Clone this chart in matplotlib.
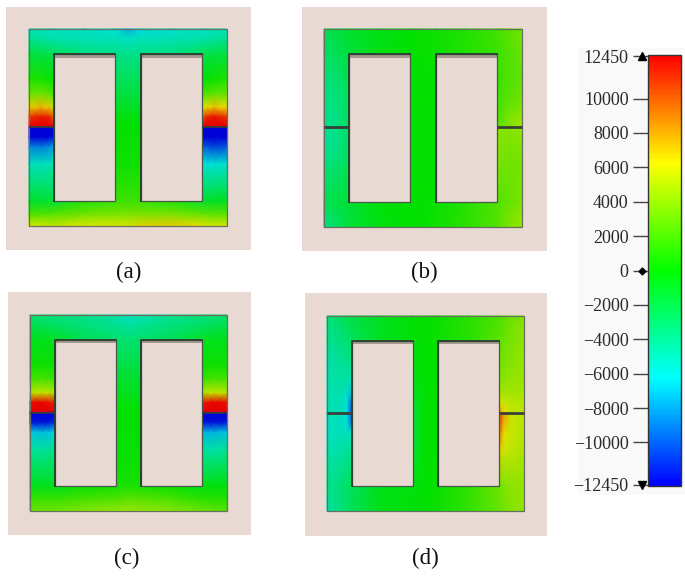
import numpy as np
import matplotlib
matplotlib.use("Agg")
import matplotlib.pyplot as plt
import matplotlib.ticker
from matplotlib.colors import LinearSegmentedColormap, Normalize
from matplotlib.cm import ScalarMappable
from matplotlib.patches import Rectangle

plt.rcParams["font.family"] = ["Liberation Serif", "DejaVu Serif"]

# field sample positions on the core (x across, y down)
grid_x = [0, 12, 20, 25, 55, 86, 99, 112, 142, 173, 178, 185, 198]
grid_y = [0, 10, 25, 50, 65, 78, 88, 97, 99, 108, 118, 135, 172, 185, 197]

field_a = [
    [-5200, -5400, -5500, -5500, -5600, -6000, -7500, -6400, -5800, -5500, -5500, -5400, -5200],
    [-4300, -4500, -4700, -4800, -5000, -5200, -5400, -5200, -5000, -4800, -4700, -4500, -4300],
    [-1800, -1800, -2100, -2500, -3600, -3800, -4000, -3800, -3600, -2500, -2100, -1800, -1800],
    [800, 500, 200, 0, -2200, -2500, -2600, -2500, -2200, -300, 0, 300, 800],
    [2800, 3000, 2600, 2000, -1500, -1700, -1800, -1700, -1500, 1800, 2200, 2600, 2800],
    [6800, 7500, 7000, 5000, -900, -1000, -1100, -1000, -900, 5500, 6500, 7200, 6300],
    [11000, 11800, 11500, 9500, -300, -300, -400, -300, -300, 10000, 11500, 12000, 11000],
    [12450, 12450, 12450, 12450, 0, 0, 0, 0, 0, 12450, 12450, 12450, 12450],
    [-12450, -12450, -12450, -12450, 0, 0, 0, 0, 0, -12450, -12450, -12450, -12450],
    [-12450, -12450, -12450, -11800, 100, 100, 100, 100, 100, -12450, -12450, -12450, -12450],
    [-8800, -9000, -8600, -7800, 200, 200, 200, 200, 200, -9800, -10000, -10500, -10000],
    [-5300, -5400, -5200, -5000, 300, 300, 300, 300, 300, -6200, -6200, -6000, -5800],
    [-1200, -1400, -1500, -1500, 900, 1500, 1700, 1500, 900, -1300, -1200, -1000, -900],
    [2000, 2100, 2200, 2400, 3000, 3300, 3300, 3300, 3300, 2700, 2600, 2500, 2300],
    [6000, 5600, 5300, 5200, 6000, 5700, 5700, 6800, 7000, 6400, 5700, 5700, 5700],
]

field_b = [
    [-2200, -1800, -1400, -1200, -500, 0, 200, 300, 800, 1800, 2100, 2400, 3000],
    [-2500, -2100, -1600, -1400, -500, 0, 200, 300, 900, 1700, 2000, 2400, 3200],
    [-2800, -2500, -2000, -1700, -500, 0, 100, 300, 900, 1500, 1800, 2200, 2800],
    [-3500, -3200, -2600, -2000, -400, 0, 0, 100, 800, 1400, 1700, 2200, 2600],
    [-3700, -3500, -2900, -2200, -300, 0, 0, 100, 800, 1500, 1900, 2400, 3000],
    [-3800, -3600, -3000, -2300, -200, 0, 0, 100, 800, 1700, 2200, 2800, 3400],
    [-4000, -3800, -3200, -2500, -200, 0, 0, 100, 800, 2000, 2500, 3300, 4000],
    [-4000, -3700, -3100, -2500, -200, 0, 0, 0, 800, 2300, 2800, 3600, 4200],
    [-4100, -3800, -3200, -2500, -200, 0, 0, 0, 800, 3500, 3700, 3700, 4000],
    [-4400, -4000, -3400, -2600, -200, 0, 0, 0, 800, 3600, 3600, 3600, 3700],
    [-4200, -3800, -3200, -2500, -200, 0, 0, 0, 800, 3400, 3400, 3300, 3500],
    [-3500, -3200, -2700, -2200, -200, 0, 0, 0, 800, 3400, 3200, 3000, 3200],
    [-2300, -2000, -1700, -1400, -200, 0, 0, 200, 1000, 2100, 2300, 2800, 3300],
    [-3000, -2500, -2000, -1600, -300, 0, 0, 300, 1100, 2200, 2700, 3200, 3900],
    [-3800, -2800, -2000, -1600, -400, 0, 0, 300, 1100, 2200, 2800, 3400, 4300],
]

field_c = [
    [-3000, -3300, -3500, -3500, -4000, -4800, -5500, -5000, -4200, -3500, -3400, -3200, -3000],
    [-2300, -2500, -2700, -2900, -3500, -4200, -4600, -4200, -3600, -2900, -2700, -2500, -2300],
    [-700, -700, -800, -1000, -2300, -3000, -3200, -3000, -2300, -1000, -800, -700, -700],
    [300, 300, 200, 100, -1700, -2000, -2100, -2000, -1700, 100, 200, 300, 300],
    [2000, 2000, 1800, 1500, -1000, -1200, -1300, -1200, -1000, 1500, 1800, 2000, 2000],
    [4800, 5200, 5000, 4500, -700, -800, -800, -800, -700, 4500, 5000, 5200, 4800],
    [12000, 12450, 12000, 11500, -300, -300, -300, -300, -300, 11500, 12000, 12450, 12000],
    [12450, 12450, 12450, 12450, 0, 0, 0, 0, 0, 12450, 12450, 12450, 12450],
    [-12450, -12450, -12450, -12450, 0, 0, 0, 0, 0, -12450, -12450, -12450, -12450],
    [-11800, -12000, -11800, -11000, 0, 0, 0, 0, 0, -11800, -12000, -12000, -11800],
    [-6800, -7200, -7000, -6500, 100, 100, 100, 100, 100, -7500, -7500, -7500, -7000],
    [-4500, -4500, -4300, -4000, 100, 100, 100, 100, 100, -4700, -4800, -4700, -4300],
    [-700, -700, -700, -700, 200, 500, 700, 500, 200, -400, -300, -300, -300],
    [1500, 1500, 1500, 1500, 1900, 2200, 2500, 2400, 2000, 1100, 1100, 1000, 900],
    [3000, 3000, 3000, 3000, 3600, 4000, 4200, 4000, 3700, 3000, 2800, 2600, 2400],
]

field_d = [
    [-3500, -2900, -2300, -2000, -800, -100, 0, 200, 1000, 2000, 2400, 2900, 3400],
    [-3900, -3200, -2600, -2200, -800, -100, 0, 300, 1100, 2200, 2600, 3100, 3800],
    [-4200, -3700, -3200, -2700, -800, -200, 0, 300, 1000, 2500, 2800, 3300, 3900],
    [-4800, -4500, -4200, -4000, -700, -200, 0, 100, 900, 3100, 3400, 3700, 4100],
    [-4900, -4600, -4700, -5400, -700, -500, 0, 100, 900, 3600, 3800, 4000, 4300],
    [-5000, -4800, -5500, -7400, -700, -800, 0, 100, 900, 4400, 4500, 4500, 4500],
    [-5100, -5000, -6000, -9800, -700, -1200, 0, 100, 900, 5700, 5400, 5000, 4800],
    [-5100, -5000, -6000, -10800, -700, -1500, 0, 100, 900, 8500, 6500, 5200, 5000],
    [-5100, -5000, -6000, -10800, -700, -1500, 0, 100, 900, 11000, 8000, 5200, 5000],
    [-5400, -5300, -6000, -9400, -700, -1500, 0, 100, 900, 10500, 7500, 5400, 4800],
    [-5400, -5300, -5300, -5500, -700, -1500, 0, 100, 900, 9500, 6500, 5400, 4800],
    [-4900, -4800, -4400, -4000, -700, -1300, 0, 100, 900, 7000, 5500, 5200, 4600],
    [-4000, -3500, -2900, -2600, -500, -300, 0, 200, 1200, 3000, 3500, 3800, 4000],
    [-4300, -3600, -2900, -2500, -500, -200, 0, 300, 1300, 2900, 3300, 3700, 4000],
    [-4900, -3800, -2900, -2500, -600, -200, 0, 300, 1300, 2700, 3100, 3600, 4000],
]

panel_labels = ["(a)", "(b)", "(c)", "(d)"]
panel_fields = [field_a, field_b, field_c, field_d]
cbar_ticks = [12450, 10000, 8000, 6000, 4000, 2000, 0, -2000, -4000, -6000, -8000, -10000, -12450]

# panel background box, core box and caption centre, in image pixels
panel_boxes = [(6, 7, 251, 250), (302, 7, 547, 251), (8, 292, 251, 535), (305, 293, 547, 536)]
core_boxes = [(29, 29, 227, 226), (324, 29, 522, 227), (30, 315, 227, 511), (327, 316, 524, 511)]
label_pos = [(129, 272), (424, 272), (127, 558), (425, 558)]

W, H = 685, 576
bg = "#e8d9d2"
edge = "#48584a"

# the screenshots of the core are a little duller than the scale itself
cmap = LinearSegmentedColormap.from_list("field", ["#0000ff", "#00ffff", "#00ff00", "#ffff00", "#ff0000"])
core_cmap = LinearSegmentedColormap.from_list("core", ["#0000d8", "#00e0dc", "#00e000", "#e6e600", "#e60000"])
norm = Normalize(-12530, 12530)


def px_axes(x0, y0, x1, y1):
    return fig.add_axes([x0 / W, 1 - y1 / H, (x1 - x0) / W, (y1 - y0) / H])


fig = plt.figure(figsize=(W / 100, H / 100), dpi=100, facecolor="white")

# core geometry in its own units: outer 198 x 197, two windows
win_l = (25, 86)
win_r = (112, 173)
win_y = (25, 172)
gap_y = 98
gap_lw = [1.2, 2.0, 1.2, 2.0]

for i in range(4):
    px0, py0, px1, py1 = panel_boxes[i]
    cx0, cy0, cx1, cy1 = core_boxes[i]
    ax = px_axes(px0, py0, px1, py1)
    sx = (cx1 - cx0) / 198
    sy = (cy1 - cy0) / 197
    ax.set_xlim((px0 - cx0) / sx, (px1 - cx0) / sx)
    ax.set_ylim((py1 - cy0) / sy, (py0 - cy0) / sy)
    ax.axis("off")
    ax.add_patch(Rectangle((ax.get_xlim()[0], ax.get_ylim()[1]),
                           ax.get_xlim()[1] - ax.get_xlim()[0],
                           ax.get_ylim()[0] - ax.get_ylim()[1], fc=bg, ec="none", zorder=0))

    mesh = ax.pcolormesh(grid_x, grid_y, np.array(panel_fields[i]), cmap=core_cmap, norm=norm,
                         shading="gouraud", zorder=1)

    for wx in (win_l, win_r):
        ax.add_patch(Rectangle((wx[0], win_y[0]), wx[1] - wx[0], win_y[1] - win_y[0],
                               fc=bg, ec="none", zorder=2))
        # grey shadow under the top edge
        ax.add_patch(Rectangle((wx[0], win_y[0]), wx[1] - wx[0], 3.5,
                               fc="#a59b90", ec="none", zorder=2.5))
        ax.add_patch(Rectangle((wx[0], win_y[0]), wx[1] - wx[0], win_y[1] - win_y[0],
                               fc="none", ec=edge, lw=0.9, zorder=3))
        # top and left edges read heavier
        ax.plot([wx[0], wx[0], wx[1]], [win_y[1], win_y[0], win_y[0]], color="#2f3d33", lw=1.3, zorder=3.2)
    ax.add_patch(Rectangle((0, 0), 198, 197, fc="none", ec="#66705f", lw=0.9, zorder=3))

    # air gap in the outer limbs
    gap_col = "#3a3f3a"
    ax.plot([0, win_l[0]], [gap_y, gap_y], color=gap_col, lw=gap_lw[i], zorder=4, solid_capstyle="butt")
    ax.plot([win_r[1], 198], [gap_y, gap_y], color=gap_col, lw=gap_lw[i], zorder=4, solid_capstyle="butt")

    lx, ly = label_pos[i]
    fig.text(lx / W, 1 - ly / H, panel_labels[i], ha="center", va="center", fontsize=16.5, color="#111111")

# colour bar with its pale backing
fig.add_artist(Rectangle((578 / W, 1 - 495 / H), 107 / W, 447 / H, transform=fig.transFigure,
                         fc="#f9f9f9", ec="none", zorder=0))
cax = px_axes(648, 55, 681, 486)
cb = fig.colorbar(ScalarMappable(norm=norm, cmap=cmap), cax=cax, ticks=cbar_ticks)
cb.outline.set_edgecolor("#333333")
cb.outline.set_linewidth(1.0)
cax.yaxis.set_ticks_position("left")
cax.yaxis.set_label_position("left")
cax.tick_params(axis="y", length=10.5, width=1.0, color="#444444", labelsize=13,
                labelcolor="#2a2a2a", pad=3.5)
cb.formatter = matplotlib.ticker.ScalarFormatter(useOffset=False)
cb.update_ticks()

# range and zero markers sitting on the ticks
marker_tr = cax.get_yaxis_transform()
for val, mk, ms in [(12450, "^", 5.5), (0, "D", 3.5), (-12450, "v", 5.5)]:
    cax.plot([-0.17], [val], marker=mk, ms=ms, color="black", transform=marker_tr, clip_on=False, zorder=6)

fig.savefig("out.png", dpi=100)
